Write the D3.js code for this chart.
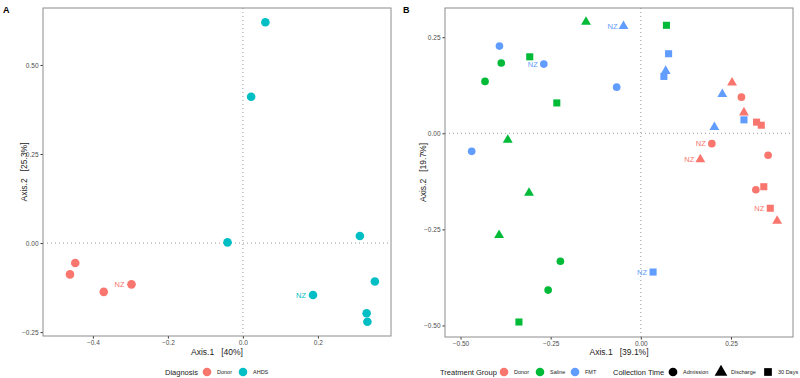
<!DOCTYPE html>
<html lang="en">
<head>
<meta charset="UTF-8">
<title>PCoA ordination: Diagnosis and Treatment Group</title>
<script src="https://d3js.org/d3.v7.min.js"></script>
<style>
    body { margin: 0; background: #fff; font-family: "Liberation Sans", Arial, sans-serif; }
    text { white-space: pre; }
    .tick text { fill: #4d4d4d; font-size: 6.5px; }
    .tick line { stroke: #333; }
    .domain { display: none; }
</style>
</head>
<body>
<div id="chart"></div>
<script>
    // ---- data ----
    // Panel A: diagnosis
    const diagnosisGroups = ["Donor", "AHDS"];
    const donorA = [
        {x: -0.447, y: -0.056}, {x: -0.461, y: -0.088},
        {x: -0.371, y: -0.137}, {x: -0.297, y: -0.116, nz: true}
    ];
    const ahdsA = [
        {x: 0.060, y: 0.620}, {x: 0.022, y: 0.411}, {x: -0.041, y: 0.002},
        {x: 0.312, y: 0.020}, {x: 0.352, y: -0.108}, {x: 0.187, y: -0.146, nz: true},
        {x: 0.330, y: -0.197}, {x: 0.332, y: -0.221}
    ];
    const ticksAx = [-0.4, -0.2, 0.0, 0.2];
    const ticksAy = [-0.25, 0.00, 0.25, 0.50];

    // Panel B: treatment group x collection time
    const treatmentGroups = ["Donor", "Saline", "FMT"];
    const collectionTimes = ["Admission", "Discharge", "30 Days"];
    const donorB = [
        {x: 0.279, y: 0.094, t: "Admission"}, {x: 0.197, y: -0.027, t: "Admission", nz: true},
        {x: 0.353, y: -0.057, t: "Admission"}, {x: 0.319, y: -0.147, t: "Admission"},
        {x: 0.253, y: 0.132, t: "Discharge"}, {x: 0.286, y: 0.054, t: "Discharge"},
        {x: 0.165, y: -0.068, t: "Discharge", nz: true}, {x: 0.378, y: -0.228, t: "Discharge"},
        {x: 0.321, y: 0.029, t: "30 Days"}, {x: 0.334, y: 0.021, t: "30 Days"},
        {x: 0.341, y: -0.139, t: "30 Days"}, {x: 0.359, y: -0.195, t: "30 Days", nz: true}
    ];
    const salineB = [
        {x: -0.387, y: 0.183, t: "Admission"}, {x: -0.432, y: 0.135, t: "Admission"},
        {x: -0.223, y: -0.333, t: "Admission"}, {x: -0.257, y: -0.408, t: "Admission"},
        {x: -0.152, y: 0.290, t: "Discharge"}, {x: -0.369, y: -0.017, t: "Discharge"},
        {x: -0.310, y: -0.155, t: "Discharge"}, {x: -0.393, y: -0.265, t: "Discharge"},
        {x: 0.071, y: 0.281, t: "30 Days"}, {x: -0.308, y: 0.199, t: "30 Days"},
        {x: -0.233, y: 0.079, t: "30 Days"}, {x: -0.338, y: -0.491, t: "30 Days"}
    ];
    const fmtB = [
        {x: -0.392, y: 0.227, t: "Admission"}, {x: -0.269, y: 0.180, t: "Admission", nz: true},
        {x: -0.067, y: 0.120, t: "Admission"}, {x: -0.469, y: -0.047, t: "Admission"},
        {x: -0.048, y: 0.279, t: "Discharge", nz: true}, {x: 0.069, y: 0.162, t: "Discharge"},
        {x: 0.226, y: 0.102, t: "Discharge"}, {x: 0.204, y: 0.016, t: "Discharge"},
        {x: 0.077, y: 0.207, t: "30 Days"}, {x: 0.064, y: 0.148, t: "30 Days"},
        {x: 0.286, y: 0.035, t: "30 Days"}, {x: 0.034, y: -0.361, t: "30 Days", nz: true}
    ];
    const ticksBx = [-0.50, -0.25, 0.00, 0.25];
    const ticksBy = [-0.50, -0.25, 0.00, 0.25];

    const colorA = d3.scaleOrdinal().domain(diagnosisGroups).range(["#F8766D", "#00BFC4"]);
    const colorB = d3.scaleOrdinal().domain(treatmentGroups).range(["#F8766D", "#00BA38", "#619CFF"]);
    const shapeB = d3.scaleOrdinal().domain(collectionTimes)
        .range([d3.symbolCircle, d3.symbolTriangle, d3.symbolSquare]);

    const svg = d3.select("#chart").append("svg")
        .attr("width", 800).attr("height", 378);

    // draws the frame, zero lines, axes and titles of one panel
    function panel(cfg) {
        const x = d3.scaleLinear().domain(cfg.xDomain).range([cfg.left, cfg.right]);
        const y = d3.scaleLinear().domain(cfg.yDomain).range([cfg.bottom, cfg.top]);
        const g = svg.append("g");

        g.append("line")
            .attr("x1", x(0)).attr("x2", x(0)).attr("y1", cfg.top).attr("y2", cfg.bottom)
            .attr("stroke", "#9a9a9a").attr("stroke-dasharray", "1,3");
        g.append("line")
            .attr("x1", cfg.left).attr("x2", cfg.right).attr("y1", y(0)).attr("y2", y(0))
            .attr("stroke", "#9a9a9a").attr("stroke-dasharray", "1,3");

        g.append("g")
            .attr("transform", `translate(0,${cfg.bottom})`)
            .call(d3.axisBottom(x).tickValues(cfg.xTicks).tickFormat(cfg.xFmt).tickSize(2.5).tickPadding(2));
        g.append("g")
            .attr("transform", `translate(${cfg.left},0)`)
            .call(d3.axisLeft(y).tickValues(cfg.yTicks).tickFormat(d3.format(".2f")).tickSize(2.5).tickPadding(2));

        g.append("rect")
            .attr("x", cfg.left).attr("y", cfg.top)
            .attr("width", cfg.right - cfg.left).attr("height", cfg.bottom - cfg.top)
            .attr("fill", "none").attr("stroke", "#8c8c8c").attr("stroke-width", 1);

        g.append("text")
            .attr("x", (cfg.left + cfg.right) / 2).attr("y", 355)
            .attr("text-anchor", "middle").style("font-size", "8.5px").attr("fill", "#222")
            .text(cfg.xTitle);
        g.append("text")
            .attr("transform", `translate(${cfg.left - cfg.yTitleGap},${(cfg.top + cfg.bottom) / 2}) rotate(-90)`)
            .attr("text-anchor", "middle").style("font-size", "8.5px").attr("fill", "#222")
            .text(cfg.yTitle);

        g.append("text")
            .attr("x", cfg.tagX).attr("y", 13)
            .style("font-size", "9px").style("font-weight", "bold")
            .text(cfg.tag);
        return {x, y};
    }

    function nzLabel(sx, sy, d, col, gap) {
        svg.append("text")
            .attr("x", sx(d.x) - gap).attr("y", sy(d.y) + 2.5)
            .attr("text-anchor", "end").attr("fill", col)
            .style("font-size", "7.5px")
            .text("NZ");
    }

    // ---- Panel A ----
    const A = panel({
        left: 43, right: 391, top: 8, bottom: 336,
        xDomain: [-0.533, 0.395], yDomain: [-0.261, 0.66],
        xTicks: ticksAx, yTicks: ticksAy, xFmt: d3.format(".1f"),
        xTitle: "Axis.1   [40%]", yTitle: "Axis.2   [25.3%]", yTitleGap: 16,
        tag: "A", tagX: 3
    });
    [["Donor", donorA], ["AHDS", ahdsA]].forEach(([grp, pts]) => {
        svg.append("g").selectAll("circle").data(pts).join("circle")
            .attr("cx", d => A.x(d.x)).attr("cy", d => A.y(d.y))
            .attr("r", 4.3).attr("fill", colorA(grp));
        pts.filter(d => d.nz).forEach(d => nzLabel(A.x, A.y, d, colorA(grp), 7));
    });

    // legend A
    const legA = svg.append("g").attr("transform", "translate(165,372)");
    legA.append("text").attr("y", 3).style("font-size", "7.5px").attr("fill", "#222").text("Diagnosis");
    [["Donor", 42], ["AHDS", 78]].forEach(([grp, off]) => {
        legA.append("circle").attr("cx", off).attr("cy", 0).attr("r", 4.3).attr("fill", colorA(grp));
        legA.append("text").attr("x", off + 10).attr("y", 2.2).style("font-size", "5.5px").attr("fill", "#222").text(grp);
    });

    // ---- Panel B ----
    const B = panel({
        left: 445, right: 793, top: 8, bottom: 337,
        xDomain: [-0.543, 0.422], yDomain: [-0.530, 0.326],
        xTicks: ticksBx, yTicks: ticksBy, xFmt: d3.format(".2f"),
        xTitle: "Axis.1   [39.1%]", yTitle: "Axis.2   [19.7%]", yTitleGap: 19,
        tag: "B", tagX: 403
    });
    const symSize = {"Admission": 46, "Discharge": 42, "30 Days": 50};
    [["Donor", donorB], ["Saline", salineB], ["FMT", fmtB]].forEach(([grp, pts]) => {
        svg.append("g").selectAll("path").data(pts).join("path")
            .attr("transform", d => `translate(${B.x(d.x)},${B.y(d.y)})`)
            .attr("d", d => d3.symbol().type(shapeB(d.t)).size(symSize[d.t])())
            .attr("fill", colorB(grp));
        pts.filter(d => d.nz).forEach(d => nzLabel(B.x, B.y, d, colorB(grp), 6));
    });

    // legend B
    const legB = svg.append("g").attr("transform", "translate(440,372)");
    legB.append("text").attr("y", 3).style("font-size", "7.5px").attr("fill", "#222").text("Treatment Group");
    [["Donor", 64], ["Saline", 100], ["FMT", 135]].forEach(([grp, off]) => {
        legB.append("circle").attr("cx", off).attr("cy", 0).attr("r", 4.3).attr("fill", colorB(grp));
        legB.append("text").attr("x", off + 10).attr("y", 2.2).style("font-size", "5.5px").attr("fill", "#222").text(grp);
    });
    legB.append("text").attr("x", 173).attr("y", 3).style("font-size", "7.5px").attr("fill", "#222").text("Collection Time");
    [["Admission", 233], ["Discharge", 281], ["30 Days", 328]].forEach(([t, off]) => {
        legB.append("path").attr("transform", `translate(${off},0)`)
            .attr("d", d3.symbol().type(shapeB(t)).size(t === "Discharge" ? 70 : 60)())
            .attr("fill", "#000");
        legB.append("text").attr("x", off + 10).attr("y", 2.2).style("font-size", "5.5px").attr("fill", "#222").text(t);
    });
</script>
</body>
</html>
